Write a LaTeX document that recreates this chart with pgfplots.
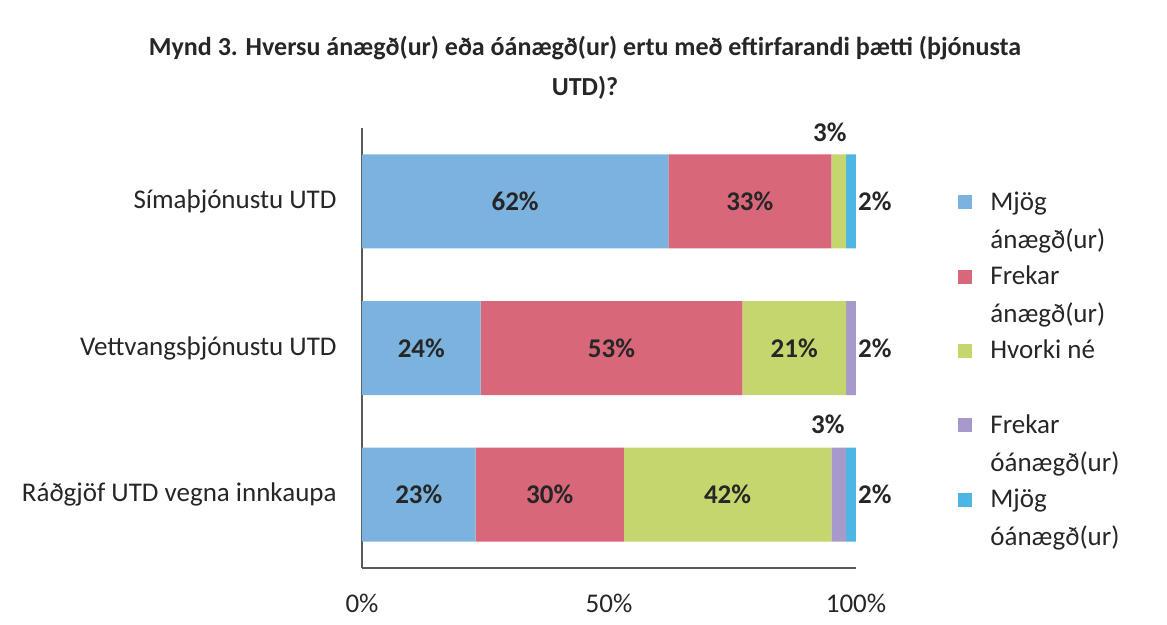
\documentclass[border=0pt]{standalone}
\usepackage{fontspec}
\setmainfont{Carlito}
\usepackage{pgfplots}
\pgfplotsset{compat=1.18}
\definecolor{c1}{HTML}{7BB2DE}
\definecolor{c2}{HTML}{D9677A}
\definecolor{c3}{HTML}{C6D66F}
\definecolor{c4}{HTML}{A899CB}
\definecolor{c5}{HTML}{4DB6E2}
\definecolor{txt}{HTML}{262626}
\newcommand{\lt}[2]{\begin{tabular}[t]{@{}l@{}}#1\\#2\end{tabular}}
\pgfplotsset{
  common/.style={width=247pt,height=220pt,scale only axis,
    xmin=0,xmax=100,ymin=-0.5,ymax=2.5,y dir=reverse,
    at={(0,0)},anchor=south west},
  lg/.style={legend image code/.code={\fill[##1] (0pt,0.5pt) rectangle (7pt,7.5pt);}}
}
\begin{document}
\begin{tikzpicture}
\useasboundingbox (-181pt,-28.5pt) rectangle (402.5pt,284pt);
\begin{axis}[common,
  xbar stacked, bar width=47pt,
  axis x line*=bottom, axis y line*=left,
  axis line style={black!65,line width=0.7pt},
  xtick={0,50,100}, xticklabels={0\%,50\%,100\%},
  ytick={0,1,2},
  yticklabels={Símaþjónustu UTD,Vettvangsþjónustu UTD,Ráðgjöf UTD vegna innkaupa},
  major tick length=0pt,
  tick label style={font=\fontsize{13.5}{15}\selectfont, text=txt},
  xticklabel style={anchor=center, inner sep=0pt, yshift=-17.5pt},
  yticklabel style={anchor=east, inner sep=0pt, xshift=-12.5pt},
  title={Mynd 3. Hversu ánægð(ur) eða óánægð(ur) ertu með eftirfarandi þætti (þjónusta\\[1.5pt]UTD)?},
  title style={at={(0.4514,1)}, anchor=north, yshift=40pt, inner sep=0pt,
    font=\bfseries\fontsize{13}{18.5}\selectfont, align=center, text=txt},
  legend style={at={(1.2065,0.875)}, anchor=north west, draw=none, fill=none,
    inner sep=0pt, row sep=-1pt, column sep=9pt,
    font=\fontsize{13.5}{19.1}\selectfont,
    nodes={inner sep=0pt, anchor=base west, text depth={}, text=txt}},
]
\addplot[fill=c1, draw=none, lg] coordinates {(62,0) (24,1) (23,2)};
\addplot[fill=c2, draw=none, lg] coordinates {(33,0) (53,1) (30,2)};
\addplot[fill=c3, draw=none, lg] coordinates {(3,0) (21,1) (42,2)};
\addplot[fill=c4, draw=none, lg] coordinates {(0,0) (2,1) (3,2)};
\addplot[fill=c5, draw=none, lg] coordinates {(2,0) (0,1) (2,2)};
\legend{\lt{Mjög}{ánægð(ur)},\lt{Frekar}{ánægð(ur)},\lt{Hvorki né}{\mbox{}},\lt{Frekar}{óánægð(ur)},\lt{Mjög}{óánægð(ur)}}
\end{axis}
\begin{axis}[common, hide axis, clip=false]
\addplot[draw=none, mark=none, nodes near coords, point meta=explicit symbolic,
  every node near coord/.style={anchor=center, inner sep=0pt,
    font=\bfseries\fontsize{13.5}{15}\selectfont, text=txt}]
  coordinates {
  (31,0) [62\%] (78.5,0) [33\%] (94.7,-0.47) [3\%] (103.8,0) [2\%]
  (12,1) [24\%] (50.5,1) [53\%] (87.5,1) [21\%] (103.8,1) [2\%]
  (11.5,2) [23\%] (38,2) [30\%] (74,2) [42\%] (94.3,1.52) [3\%] (103.8,2) [2\%]
  };
\end{axis}
\end{tikzpicture}
\end{document}
